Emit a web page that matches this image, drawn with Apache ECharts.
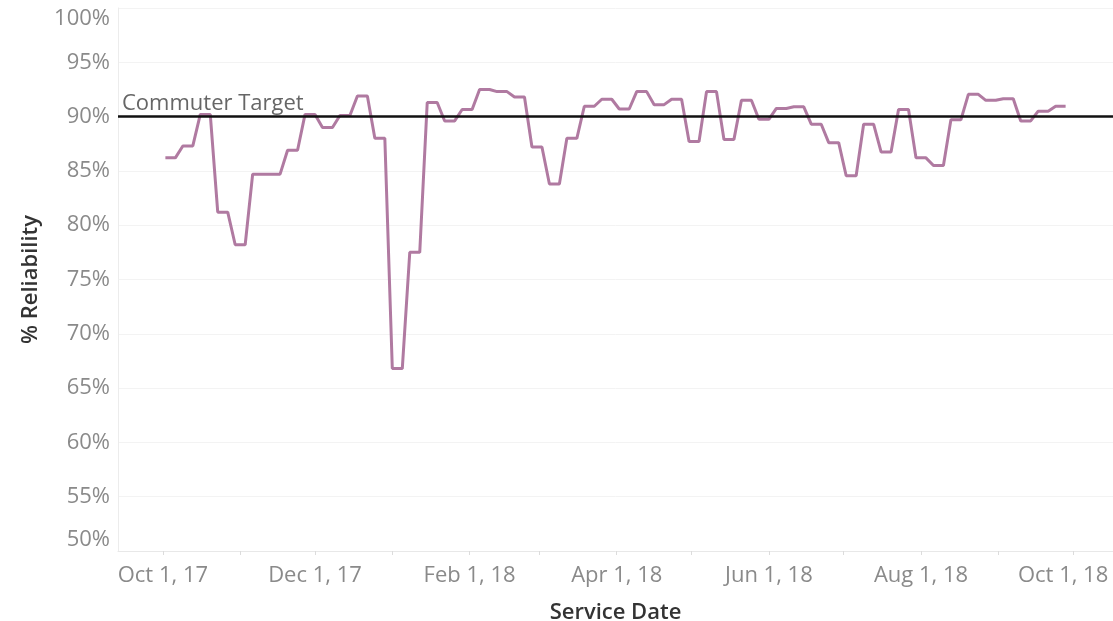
<!DOCTYPE html>
<html>
<head>
<meta charset="utf-8">
<title>Commuter Reliability</title>
<script src="https://cdn.jsdelivr.net/npm/echarts@6/dist/echarts.min.js"></script>
<style>
  html, body { margin: 0; padding: 0; background: #fff; }
  #chart { width: 1113px; height: 621px; }
</style>
</head>
<body>
<div id="chart"></div>
<script>
// weekly reliability (%), one value per service week, first week starts Mon Oct 2, 2017
const firstWeek = [2017, 9, 2];
const weeklyReliability = [
  86.2, 87.3, 90.2, 81.2, 78.2, 84.7, 84.7, 86.9, 90.2, 89.0,
  90.1, 91.9, 88.0, 66.8, 77.5, 91.3, 89.6, 90.65, 92.5, 92.3,
  91.8, 87.2, 83.8, 88.0, 90.95, 91.6, 90.7, 92.3, 91.1, 91.6,
  87.7, 92.3, 87.9, 91.5, 89.75, 90.75, 90.9, 89.3, 87.6, 84.55,
  89.3, 86.75, 90.65, 86.2, 85.5, 89.7, 92.05, 91.5, 91.65, 89.6,
  90.5, 90.95
];
const targetValue = 90;
const targetLabel = "Commuter Target";
const monthNames = ["Jan", "Feb", "Mar", "Apr", "May", "Jun", "Jul", "Aug", "Sep", "Oct", "Nov", "Dec"];
const yTicks = { min: 50, max: 100, step: 5 };

// each week's value holds from Monday to Friday
const seriesData = [];
weeklyReliability.forEach((v, k) => {
  const mon = new Date(firstWeek[0], firstWeek[1], firstWeek[2] + 7 * k);
  const fri = new Date(firstWeek[0], firstWeek[1], firstWeek[2] + 7 * k + 4);
  seriesData.push([mon.getTime(), v]);
  seriesData.push([fri.getTime(), v]);
});

const font = "'Open Sans', 'Noto Sans', sans-serif";
const axisMax = new Date(2018, 9, 17).getTime();
const chart = echarts.init(document.getElementById("chart"));

chart.setOption({
  animation: false,
  textStyle: { fontFamily: font },
  grid: { left: 118, right: 0, top: 8, bottom: 70, outerBoundsMode: "none", containLabel: false },
  xAxis: {
    type: "time",
    min: new Date(2017, 8, 13).getTime(),
    max: axisMax,
    minInterval: 28 * 864e5,
    maxInterval: 31 * 864e5,
    name: "Service Date",
    nameLocation: "middle",
    nameGap: 51,
    nameTextStyle: { fontSize: 22, color: "#333", fontWeight: 600, fontFamily: font },
    axisLine: { show: true, lineStyle: { color: "#e8e8e8", width: 1 } },
    axisTick: { show: true, length: 4, lineStyle: { color: "#dcdcdc" } },
    splitLine: { show: false },
    axisLabel: {
      color: "#8a8a8a",
      fontSize: 22,
      margin: 14,
      hideOverlap: false,
      formatter: (val) => {
        const d = new Date(val);
        if (d.getDate() !== 1 || d.getMonth() % 2 === 0) return "";
        const txt = `${monthNames[d.getMonth()]} 1, ${String(d.getFullYear()).slice(2)}`;
        // last label sits near the right edge, nudge it inward
        return axisMax - val < 40 * 864e5 ? `{edge|${txt}}` : txt;
      },
      rich: {
        edge: { color: "#8a8a8a", fontSize: 22, fontFamily: font, padding: [0, 20, 0, 0] }
      }
    }
  },
  yAxis: {
    type: "value",
    min: yTicks.min,
    max: yTicks.max,
    interval: yTicks.step,
    name: "% Reliability",
    nameLocation: "middle",
    nameGap: 76,
    nameTextStyle: { fontSize: 22, color: "#333", fontWeight: 600, fontFamily: font },
    axisLine: { show: true, lineStyle: { color: "#ececec" } },
    axisTick: { show: false },
    splitLine: { lineStyle: { color: "#f3f3f3" } },
    axisLabel: {
      color: "#8a8a8a",
      fontSize: 22,
      margin: 8,
      verticalAlignMaxLabel: "top",
      verticalAlignMinLabel: "bottom",
      formatter: "{value}%"
    }
  },
  series: [
    {
      name: "Reliability",
      type: "line",
      data: seriesData,
      showSymbol: false,
      lineStyle: { color: "#b07aa1", width: 3 },
      itemStyle: { color: "#b07aa1" },
      z: 2,
      markLine: {
        silent: true,
        symbol: "none",
        z: 3,
        lineStyle: { color: "#111", width: 2.5, type: "solid" },
        label: {
          show: true,
          position: "insideStartTop",
          distance: [4, 2],
          formatter: targetLabel,
          color: "#666",
          fontSize: 22,
          fontFamily: font
        },
        data: [{ yAxis: targetValue }]
      }
    }
  ]
});
</script>
</body>
</html>
